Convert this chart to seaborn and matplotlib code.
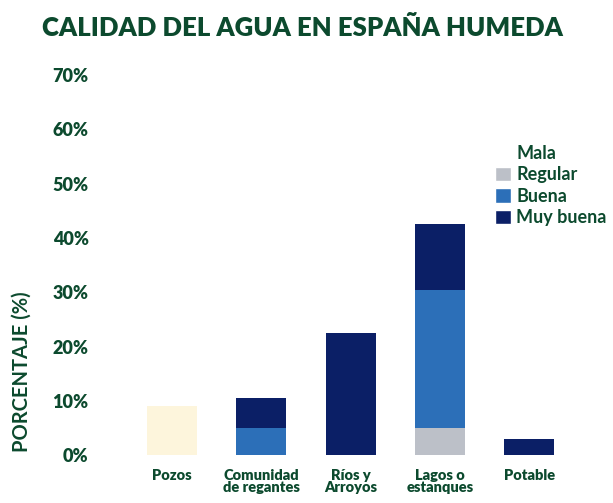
import numpy as np
import pandas as pd
import matplotlib
matplotlib.use("Agg")
import matplotlib.pyplot as plt
from matplotlib.patches import Patch
import seaborn as sns

# datos
fuentes = ["Pozos", "Comunidad\nde regantes", "Ríos y\nArroyos", "Lagos o\nestanques", "Potable"]
calidades = ["Mala", "Regular", "Buena", "Muy buena"]
mala = [9.0, 0.0, 0.0, 0.0, 0.0]
regular = [0.0, 0.0, 0.0, 5.0, 0.0]
buena = [0.0, 5.0, 0.0, 25.5, 0.0]
muy_buena = [0.0, 5.5, 22.5, 12.0, 3.0]
yticks = [0, 10, 20, 30, 40, 50, 60, 70]

colores = {"Mala": "#fdf5dc", "Regular": "#bcc0c8", "Buena": "#2c6fb8", "Muy buena": "#0b1f66"}
verde = "#0c4a2e"

sns.set_style("white")
plt.rcParams['font.family'] = ['Lato', 'DejaVu Sans']

df = pd.DataFrame({"fuente": fuentes, "Mala": mala, "Regular": regular,
                   "Buena": buena, "Muy buena": muy_buena})

fig = plt.figure(figsize=(6.13, 5.03), dpi=100)
ax = fig.add_axes([0.208, 0.095, 0.728, 0.756])

# barras apiladas: se dibuja el acumulado de arriba hacia abajo
acumulado = df[calidades].cumsum(axis=1)
for cal in reversed(calidades):
    sns.barplot(x=df["fuente"], y=acumulado[cal], color=colores[cal],
                width=0.56, saturation=1, ax=ax, linewidth=0)

ax.set_ylim(0, 70)
ax.set_xlim(-0.5, 4.5)
ax.set_yticks(yticks)
ax.set_yticklabels([f"{v}%" for v in yticks], fontsize=13, fontweight="heavy", color=verde)
ax.tick_params(axis="y", length=0, pad=28)
ax.tick_params(axis="x", length=0, pad=10)
for lab in ax.get_xticklabels():
    lab.set_fontsize(10.5)
    lab.set_fontweight("heavy")
    lab.set_color(verde)
    lab.set_linespacing(0.9)
ax.set_xlabel("")
ax.set_ylabel("PORCENTAJE (%)", fontsize=14.5, color=verde, fontweight="bold")
ax.yaxis.set_label_coords(-0.215, 0.22)
sns.despine(ax=ax, left=True, bottom=True)

fig.text(0.494, 0.945, "CALIDAD DEL AGUA EN ESPAÑA HUMEDA", ha="center", va="center",
         fontsize=18.5, fontweight="heavy", color=verde)

handles = [Patch(facecolor=("#ffffff" if c == "Mala" else colores[c]), label=c) for c in calidades]
fig.legend(handles=handles, loc="upper left", bbox_to_anchor=(0.808, 0.712), frameon=False,
           prop={"size": 13, "weight": "bold"}, labelcolor=verde,
           handlelength=0.85, handleheight=0.85, handletextpad=0.3, labelspacing=0.25,
           borderaxespad=0, borderpad=0)

fig.savefig("out.png", dpi=100)
